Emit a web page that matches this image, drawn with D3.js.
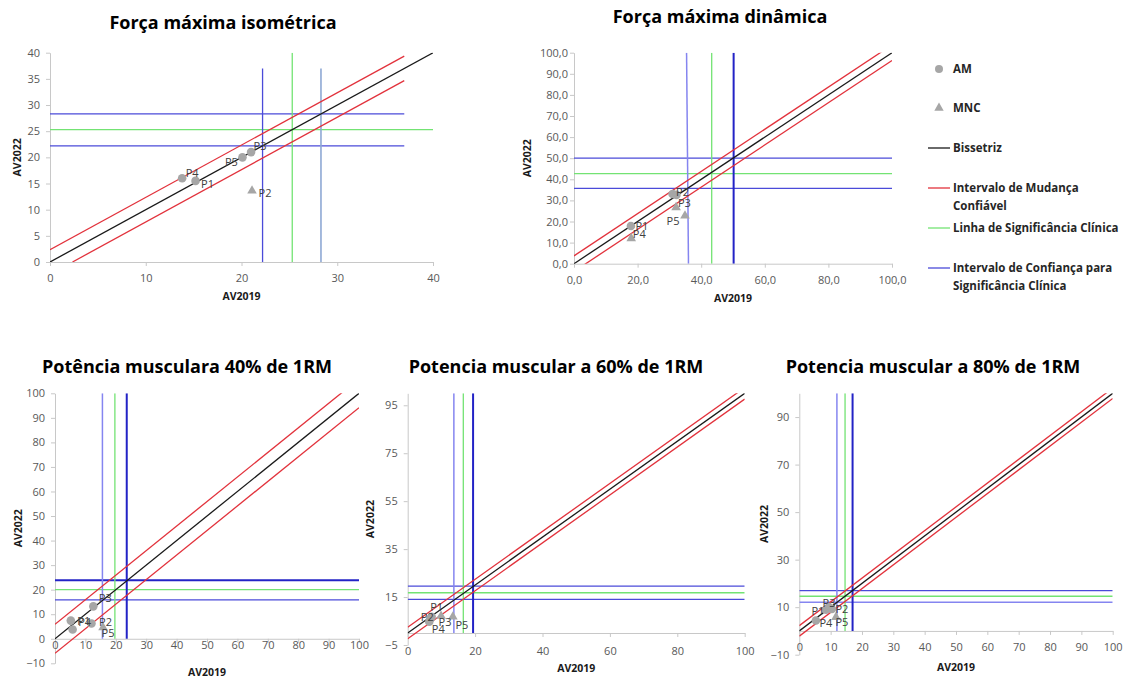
<!DOCTYPE html>
<html>
<head>
<meta charset="utf-8">
<script src="https://cdn.jsdelivr.net/npm/d3@7"></script>
<style>
  body { margin: 0; background: #fff; }
  text { font-family: "Open Sans", sans-serif; }
</style>
</head>
<body>
<svg id="chart" width="1123" height="678"></svg>
<script>
// ---------- data ----------
// Força máxima isométrica
const isoAM = [
  { id: "P4", x: 13.8, y: 16 },
  { id: "P1", x: 15.2, y: 15.5 },
  { id: "P5", x: 20.1, y: 20 },
  { id: "P3", x: 21, y: 21 }
];
const isoMNC = [{ id: "P2", x: 21.1, y: 13.6 }];
const isoRC = 2.35;           // intervalo de mudança confiável
const isoSig = 25.3;          // linha de significância clínica
const isoCI = [22.2, 28.3];   // intervalo de confiança
const isoEnd = 37;            // fim das séries auxiliares

// Força máxima dinâmica
const dynAM = [
  { id: "P1", x: 17.9, y: 17.9 },
  { id: "P2", x: 31, y: 33 },
  { id: "P3", x: 32.2, y: 32.6 }
];
const dynMNC = [
  { id: "P4", x: 18, y: 12 },
  { id: "P3b", x: 32.1, y: 26.7 },
  { id: "P5", x: 34.9, y: 22.7 }
];
const dynRC = 3.7;
const dynSigX = 43.3, dynSigY = 42.7;
const dynCIX = [35.7, 50.2], dynCIY = [35.7, 50.0];

// Potência muscular 40% 1RM
const p40AM = [
  { id: "P1", x: 5.2, y: 7.4 },
  { id: "P4", x: 5.8, y: 3.8 },
  { id: "P2", x: 12, y: 6.2 },
  { id: "P3", x: 12.6, y: 13.2 }
];
const p40MNC = [{ id: "P5", x: 15.8, y: 4.6 }];
const p40RC = 5.9;
const p40SigX = 19.7, p40SigY = 20.0;
const p40CIX = [15.6, 23.6], p40CIY = [15.8, 23.8];

// Potência muscular 60% 1RM
const p60AM = [
  { id: "P4", x: 6.4, y: 4.7 },
  { id: "P2", x: 6.7, y: 6.0 },
  { id: "P1", x: 7.1, y: 6.8 }
];
const p60MNC = [
  { id: "P3", x: 9.9, y: 7.1 },
  { id: "P5", x: 13.4, y: 6.8 }
];
const p60RC = 2.4;
const p60SigX = 16.5, p60SigY = 16.8;
const p60CIX = [13.7, 19.4], p60CIY = [14.0, 19.6];

// Potência muscular 80% 1RM
const p80AM = [
  { id: "P4", x: 5.3, y: 4.4 },
  { id: "P1", x: 8.5, y: 8.9 },
  { id: "P3", x: 9.5, y: 10 },
  { id: "P2", x: 10.4, y: 9.2 }
];
const p80MNC = [{ id: "P5", x: 11.7, y: 5.8 }];
const p80RC = 2.2;
const p80SigX = 14.6, p80SigY = 14.6;
const p80CIX = [12.0, 17.0], p80CIY = [12.1, 17.0];

// ---------- helpers ----------
const diag = (off, x0, x1) => [[x0, x0 + off], [x1, x1 + off]];
const hline = (v, x0, x1) => [[x0, v], [x1, v]];
const vline = (v, y0, y1) => [[v, y0], [v, y1]];

const lineStyle = {
  bis:   { stroke: "#1a1a1a", w: 1.3 },
  red:   { stroke: "#e2323c", w: 1.3 },
  green: { stroke: "#73e373", w: 1.3 },
  blue:  { stroke: "#4b4bd9", w: 1.3 },
  light: { stroke: "#8585f0", w: 1.5 },
  dark:  { stroke: "#2323c6", w: 2 },
  steel: { stroke: "#8ea8d4", w: 1.6 }
};

const fmtInt = d3.format("d");
const fmtPt = d3.formatLocale({ decimal: ",", thousands: ".", grouping: [3], currency: ["", ""] }).format(".1f");

const fullLines = (rc, sigX, sigY, ciX, ciY) => [
  ["green", hline(sigY, 0, 100)],
  ["blue", hline(ciY[1], 0, 100)],
  ["blue", hline(ciY[0], 0, 100)],
  ["light", vline(ciX[0], 0, 100)],
  ["green", vline(sigX, 0, 100)],
  ["dark", vline(ciX[1], 0, 100)],
  ["bis", diag(0, 0, 100)],
  ["red", diag(rc, 0, 100)],
  ["red", diag(-rc, 0, 100)]
];

const dynLines = fullLines(dynRC, dynSigX, dynSigY, dynCIX, dynCIY);
dynLines[3][1] = [[dynCIX[0] + 0.3, 0], [dynCIX[0] - 0.3, 100]]; // slightly tilted in the source
const p40Lines = fullLines(p40RC, p40SigX, p40SigY, p40CIX, p40CIY);
p40Lines[1][0] = "dark";
const p80Lines = fullLines(p80RC, p80SigX, p80SigY, p80CIX, p80CIY);
p80Lines[2][0] = "light";

const panels = [
  {
    title: "Força máxima isométrica", titleX: 223, titleY: 29,
    left: 50, right: 433, top: 52.7, bottom: 262,
    xDomain: [0, 40], yDomain: [0, 40],
    xTicks: d3.range(0, 41, 10), yTicks: d3.range(0, 41, 5), fmt: fmtInt,
    xPad: 8, yPad: 6, yTitleX: 17, xTitleY: 300,
    am: isoAM, mnc: isoMNC,
    labels: { P4: [10, -5], P1: [12, 3], P5: [-11, 5], P3: [9, -6], P2: [13, 2] },
    lines: [
      ["blue", hline(isoCI[1], 0, isoEnd)],
      ["green", hline(isoSig, 0, 40)],
      ["blue", hline(isoCI[0], 0, isoEnd)],
      ["blue", vline(isoCI[0], 0, isoEnd)],
      ["green", vline(isoSig, 0, 40)],
      ["steel", vline(isoCI[1], 0, isoEnd)],
      ["bis", diag(0, 0, 40)],
      ["red", diag(isoRC, 0, isoEnd)],
      ["red", diag(-isoRC, isoRC, isoEnd)]
    ]
  },
  {
    title: "Força máxima dinâmica", titleX: 720, titleY: 23,
    left: 574, right: 892, top: 52.7, bottom: 263.7,
    xDomain: [0, 100], yDomain: [0, 100],
    xTicks: d3.range(0, 101, 20), yTicks: d3.range(0, 101, 10), fmt: fmtPt,
    xPad: 9, yPad: 2, yTitleX: 527, xTitleY: 302,
    am: dynAM, mnc: dynMNC,
    labels: { P1: [11, 0], P2: [10, -2], P3: [8, 8], P4: [8, -4], P3b: null, P5: [-12, 5] },
    lines: dynLines
  },
  {
    title: "Potência musculara 40% de 1RM", titleX: 187, titleY: 373,
    left: 55, right: 359, top: 393.3, bottom: 663.3,
    xDomain: [0, 100], yDomain: [-10, 100],
    xTicks: d3.range(0, 101, 10), yTicks: d3.range(-10, 101, 10), fmt: fmtInt,
    xPad: -2, yPad: 6, yTitleX: 18, xTitleY: 676,
    am: p40AM, mnc: p40MNC,
    labels: { P1: [13, 1], P4: [12, -7], P2: [14, -1], P3: [12, -8], P5: [5, 6] },
    lines: p40Lines
  },
  {
    title: "Potencia muscular a 60% de 1RM", titleX: 556, titleY: 373,
    left: 407.7, right: 744.7, top: 393.3, bottom: 645,
    xDomain: [0, 100], yDomain: [-5, 100],
    xTicks: d3.range(0, 101, 20), yTicks: d3.range(-5, 100, 20), fmt: fmtInt,
    xPad: 10, yPad: 6, yTitleX: 370, xTitleY: 672,
    am: p60AM, mnc: p60MNC,
    labels: { P1: [5, -10], P2: [-3, -1], P4: [9, 7], P3: [4, 6], P5: [9, 8] },
    lines: fullLines(p60RC, p60SigX, p60SigY, p60CIX, p60CIY)
  },
  {
    title: "Potencia muscular a 80% de 1RM", titleX: 933, titleY: 373,
    left: 799.3, right: 1112.7, top: 393.3, bottom: 654.7,
    xDomain: [0, 100], yDomain: [-10, 100],
    xTicks: d3.range(0, 101, 10), yTicks: d3.range(-10, 100, 20), fmt: fmtInt,
    xPad: 8, yPad: 6, yTitleX: 764, xTitleY: 671,
    am: p80AM, mnc: p80MNC,
    labels: { P4: [10, 3], P1: [-8, 1], P3: [0, -4], P2: [10, 0], P5: [6, 5] },
    lines: p80Lines
  }
];

// ---------- drawing ----------
const svg = d3.select("#chart");
svg.append("rect").attr("width", 1123).attr("height", 678).attr("fill", "#fff");
const defs = svg.append("defs");

panels.forEach((p, i) => {
  const x = d3.scaleLinear().domain(p.xDomain).range([p.left, p.right]);
  const y = d3.scaleLinear().domain(p.yDomain).range([p.bottom, p.top]);
  const g = svg.append("g").attr("class", `panel panel-${i}`);

  defs.append("clipPath").attr("id", `clip-${i}`)
    .append("rect")
    .attr("x", p.left).attr("y", p.top)
    .attr("width", p.right - p.left).attr("height", p.bottom - p.top);

  // title
  g.append("text")
    .attr("x", p.titleX).attr("y", p.titleY)
    .attr("text-anchor", "middle")
    .attr("font-size", 18).attr("font-weight", 700)
    .attr("fill", "#000")
    .text(p.title);

  // axes
  const xAxis = d3.axisBottom(x).tickValues(p.xTicks).tickFormat(p.fmt)
    .tickSize(4).tickSizeOuter(0).tickPadding(p.xPad);
  const yAxis = d3.axisLeft(y).tickValues(p.yTicks).tickFormat(p.fmt)
    .tickSize(4).tickSizeOuter(0).tickPadding(p.yPad);

  const gy = g.append("g").attr("transform", `translate(${p.left},0)`).call(yAxis);
  const gx = g.append("g").attr("transform", `translate(0,${y(0)})`).call(xAxis);
  [gx, gy].forEach(a => {
    a.select(".domain").attr("stroke", "#c8c8c8");
    a.selectAll(".tick line").attr("stroke", "#c8c8c8");
    a.selectAll(".tick text")
      .attr("fill", "#595959")
      .attr("font-size", 11)
      .attr("font-family", "Open Sans, sans-serif");
  });

  // axis titles
  g.append("text")
    .attr("x", (p.left + p.right) / 2).attr("y", p.xTitleY)
    .attr("text-anchor", "middle")
    .attr("font-size", 10.5).attr("font-weight", 700).attr("fill", "#1a1a1a")
    .text("AV2019");
  g.append("text")
    .attr("transform", `translate(${p.yTitleX},${(p.top + p.bottom) / 2}) rotate(-90)`)
    .attr("dy", "0.35em")
    .attr("text-anchor", "middle")
    .attr("font-size", 10.5).attr("font-weight", 700).attr("fill", "#1a1a1a")
    .text("AV2022");

  // reference lines
  const line = d3.line().x(d => x(d[0])).y(d => y(d[1]));
  g.append("g").attr("clip-path", `url(#clip-${i})`)
    .selectAll("path")
    .data(p.lines)
    .join("path")
    .attr("d", d => line(d[1]))
    .attr("fill", "none")
    .attr("stroke", d => lineStyle[d[0]].stroke)
    .attr("stroke-width", d => lineStyle[d[0]].w);

  // points
  g.append("g").selectAll("circle")
    .data(p.am)
    .join("circle")
    .attr("cx", d => x(d.x)).attr("cy", d => y(d.y))
    .attr("r", 4.3)
    .attr("fill", "#a6a6a6");

  const tri = d3.symbol().type(d3.symbolTriangle).size(40);
  g.append("g").selectAll("path")
    .data(p.mnc)
    .join("path")
    .attr("transform", d => `translate(${x(d.x)},${y(d.y)})`)
    .attr("d", tri)
    .attr("fill", "#a6a6a6");

  // data labels
  const pts = p.am.concat(p.mnc).filter(d => p.labels[d.id]);
  g.append("g").selectAll("text")
    .data(pts)
    .join("text")
    .attr("x", d => x(d.x) + p.labels[d.id][0])
    .attr("y", d => y(d.y) + p.labels[d.id][1])
    .attr("dy", "0.35em")
    .attr("text-anchor", "middle")
    .attr("font-size", 11)
    .attr("fill", "#404040")
    .text(d => d.id.slice(0, 2));
});

// ---------- legend ----------
const legendItems = [
  { kind: "circle", y: 69, lines: ["AM"] },
  { kind: "triangle", y: 108, lines: ["MNC"] },
  { kind: "bis", y: 148, lines: ["Bissetriz"] },
  { kind: "red", y: 188, lines: ["Intervalo de Mudança", "Confiável"] },
  { kind: "green", y: 228, lines: ["Linha de Significância Clínica"] },
  { kind: "blue", y: 268, lines: ["Intervalo de Confiança para", "Significância Clínica"] }
];

const legend = svg.append("g").attr("class", "legend");
legendItems.forEach(item => {
  if (item.kind === "circle") {
    legend.append("circle").attr("cx", 939).attr("cy", item.y).attr("r", 4).attr("fill", "#a6a6a6");
  } else if (item.kind === "triangle") {
    legend.append("path")
      .attr("transform", `translate(939,${item.y})`)
      .attr("d", d3.symbol().type(d3.symbolTriangle).size(38))
      .attr("fill", "#a6a6a6");
  } else {
    legend.append("line")
      .attr("x1", 928).attr("x2", 950)
      .attr("y1", item.y).attr("y2", item.y)
      .attr("stroke", lineStyle[item.kind].stroke)
      .attr("stroke-width", 1.3);
  }
  const t = legend.append("text")
    .attr("x", 953).attr("y", item.y)
    .attr("dy", "0.35em")
    .attr("font-size", 11.5).attr("font-weight", 700).attr("fill", "#262626");
  item.lines.forEach((s, k) => {
    t.append("tspan").attr("x", 953).attr("dy", k === 0 ? "0.35em" : 17.5).text(s);
  });
});
</script>
</body>
</html>
